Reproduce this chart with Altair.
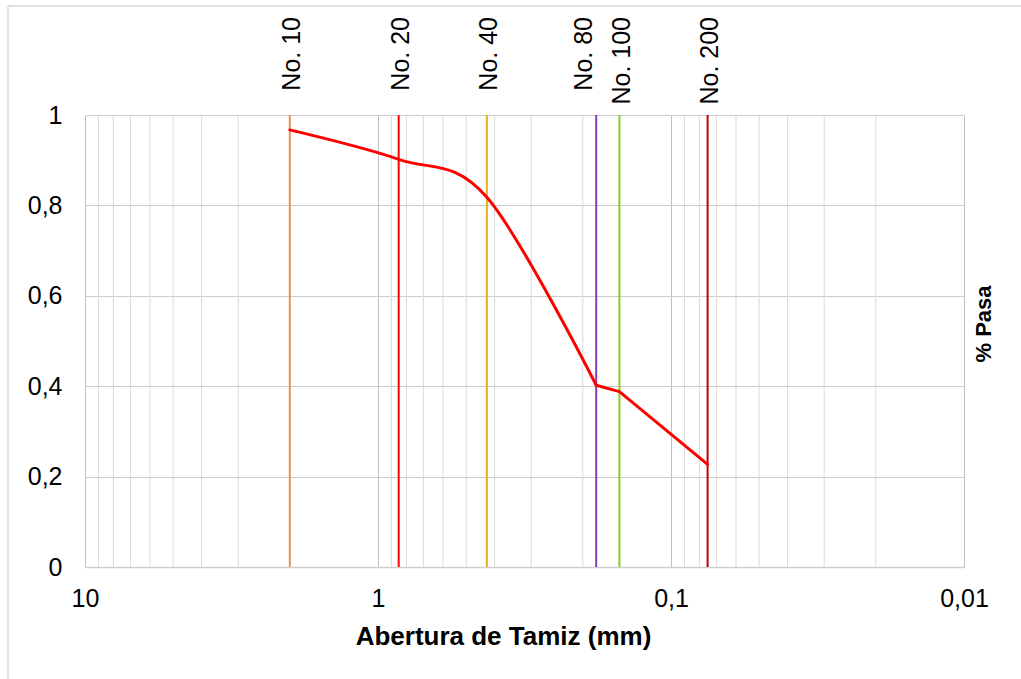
import altair as alt
import pandas as pd

# Sieve openings (mm) and fraction passing
sizes = [2.0, 0.85, 0.425, 0.18, 0.15, 0.075]
passing = [0.967, 0.902, 0.818, 0.402, 0.388, 0.227]
sieves = ["No. 10", "No. 20", "No. 40", "No. 80", "No. 100", "No. 200"]
sieve_colors = ["#E8915A", "#FF0000", "#E8B020", "#7F3FBF", "#7FD020", "#C00000"]

# Axis ticks and log minor gridlines
x_ticks = [10, 1, 0.1, 0.01]
y_ticks = [0, 0.2, 0.4, 0.6, 0.8, 1]
minor_grid = [m * d for d in (1, 0.1, 0.01) for m in (2, 3, 4, 5, 6, 7, 8, 9)]

x_title = "Abertura de Tamiz (mm)"
y_title = "% Pasa"

W, H = 879, 452
PAD = {"left": 85, "top": 115, "right": 57, "bottom": 112}
FONT = "Liberation Sans"

df = pd.DataFrame({"size": sizes, "pasa": passing, "sieve": sieves})
grid_df = pd.DataFrame({"size": minor_grid})

xscale = alt.Scale(type="log", domain=[0.01, 10], reverse=True, nice=False)
yscale = alt.Scale(domain=[0, 1], nice=False)
label_expr = "replace(format(datum.value, '~g'), '.', ',')"

x_axis = alt.Axis(
    values=x_ticks, labelExpr=label_expr, title=None, grid=True,
    gridColor="#c0c0c0", gridWidth=1, domainColor="#d0d0d0", domainWidth=1.5,
    ticks=False, tickSize=0, labelFlush=False, labelOverlap=False,
    labelFont=FONT, labelFontSize=25, labelColor="#000000", labelPadding=19,
)
y_axis = alt.Axis(
    values=y_ticks, labelExpr=label_expr, title=None, grid=True,
    gridColor="#cccccc", gridWidth=1.2, domain=False,
    ticks=False, tickSize=0, labelFlush=False, labelOverlap=False,
    labelFont=FONT, labelFontSize=25, labelColor="#000000", labelPadding=23,
)
X = alt.X("size:Q", scale=xscale, axis=x_axis)
Y = alt.Y("pasa:Q", scale=yscale, axis=y_axis)

grid = alt.Chart(grid_df).mark_rule(color="#d9d9d9", strokeWidth=1).encode(
    x=X, y=alt.value(0), y2=alt.value(H),
)

sieve_rules = alt.Chart(df).mark_rule(strokeWidth=2).encode(
    x=X,
    y=alt.value(0),
    y2=alt.value(H),
    color=alt.Color("sieve:N", scale=alt.Scale(domain=sieves, range=sieve_colors), legend=None),
)

# Smoothed gradation curve: coarse part as a cardinal spline, fine tail straight
curve_coarse = alt.Chart(df).mark_line(
    color="#FF0000", strokeWidth=3, interpolate="cardinal", strokeCap="round"
).encode(x=X, y=Y).transform_filter(alt.datum.size >= 0.18)
curve_fine = alt.Chart(df).mark_line(
    color="#FF0000", strokeWidth=3, interpolate="linear", strokeCap="round", strokeJoin="round"
).encode(x=X, y=Y).transform_filter(alt.datum.size <= 0.18)

label_base = alt.Chart(df).encode(
    x=X,
    y=alt.value(17 - PAD["top"]),
    text="sieve:N",
)
sieve_labels = label_base.mark_text(
    angle=270, align="right", baseline="alphabetic", dy=10.5,
    font=FONT, fontSize=25, color="#000000",
).transform_filter(alt.datum.sieve != "No. 80")
sieve_labels_80 = label_base.mark_text(
    angle=270, align="right", baseline="alphabetic", dy=-4.5,
    font=FONT, fontSize=25, color="#000000",
).transform_filter(alt.datum.sieve == "No. 80")

xt = alt.Chart(pd.DataFrame({"t": [x_title]})).mark_text(
    align="center", baseline="alphabetic", font=FONT, fontSize=26,
    fontWeight="bold", color="#000000",
).encode(x=alt.value(503.5 - PAD["left"]), y=alt.value(645 - PAD["top"]), text="t:N")

yt = alt.Chart(pd.DataFrame({"t": [y_title]})).mark_text(
    angle=270, align="center", baseline="middle", font=FONT, fontSize=22,
    fontWeight="bold", color="#000000",
).encode(x=alt.value(984 - PAD["left"]), y=alt.value(324 - PAD["top"]), text="t:N")

# Outer frame of the chart area
frame_left = alt.Chart(pd.DataFrame({"k": [0]})).mark_rule(color="#d9d9d9", strokeWidth=1.5).encode(
    x=alt.value(8 - PAD["left"]), y=alt.value(6 - PAD["top"]), y2=alt.value(H + PAD["bottom"] + 5)
)
frame_top = alt.Chart(pd.DataFrame({"k": [0]})).mark_rule(color="#d9d9d9", strokeWidth=1.5).encode(
    y=alt.value(6 - PAD["top"]), x=alt.value(8 - PAD["left"]), x2=alt.value(W + PAD["right"] + 5)
)

chart = alt.layer(
    grid, sieve_rules, curve_coarse, curve_fine, sieve_labels, sieve_labels_80,
    xt, yt, frame_left, frame_top
).properties(
    width=W, height=H,
    autosize=alt.AutoSizeParams(type="none"),
    padding=PAD,
    background="#ffffff",
).configure_view(stroke=None)

chart.save("out.html", embed_options={"renderer": "svg", "actions": False})
